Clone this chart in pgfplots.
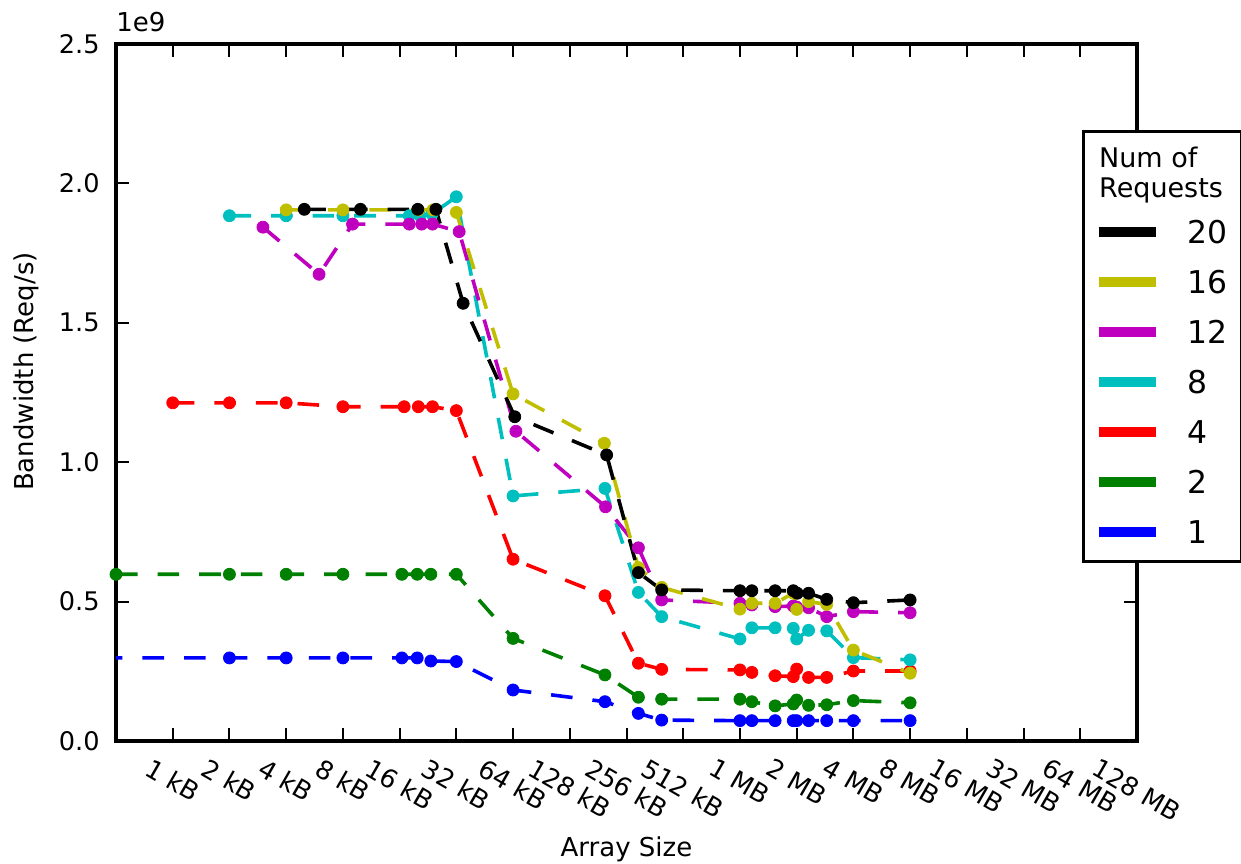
\documentclass[border=0pt]{standalone}
\usepackage{fontspec}
\setmainfont{DejaVu Sans}
\usepackage{graphicx}
\usepackage{pgfplots}
\pgfplotsset{compat=1.18}
\definecolor{mplb}{rgb}{0,0,1}
\definecolor{mplg}{rgb}{0,0.5,0}
\definecolor{mplr}{rgb}{1,0,0}
\definecolor{mplc}{rgb}{0,0.75,0.75}
\definecolor{mplm}{rgb}{0.75,0,0.75}
\definecolor{mply}{rgb}{0.75,0.75,0}
\newcommand{\rl}[1]{\rotatebox{-30}{#1}}
\pgfplotsset{
  ser/.style={color=#1, line width=1.8pt, dash pattern=on 10.8pt off 10pt,
    mark=*, mark size=3pt, mark options={solid, fill=#1, line width=0.4pt}},
}
\begin{document}
\begin{tikzpicture}
\begin{axis}[
  name=ax, at={(0,0)}, anchor=south west,
  scale only axis, width=510.5pt, height=348.5pt,
  xmin=9, xmax=27, ymin=0, ymax=2.5,
  xtick={10,...,27},
  xticklabels={\rl{1 kB},\rl{2 kB},\rl{4 kB},\rl{8 kB},\rl{16 kB},\rl{32 kB},\rl{64 kB},\rl{128 kB},\rl{256 kB},\rl{512 kB},\rl{1 MB},\rl{2 MB},\rl{4 MB},\rl{8 MB},\rl{16 MB},\rl{32 MB},\rl{64 MB},\rl{128 MB}},
  ytick={0,0.5,1,1.5,2,2.5},
  yticklabels={0.0,0.5,1.0,1.5,2.0,2.5},
  ticklabel style={font=\fontsize{12.8}{15}\selectfont},
  xticklabel style={anchor=north, inner sep=0pt, yshift=-8pt},
  yticklabel style={anchor=east, inner sep=0pt, xshift=-8pt},
  tick align=inside,
  major tick length=6.5pt,
  tick style={line width=1pt, black},
  axis line style={line width=1.6pt},
  xlabel={Array Size},
  ylabel={Bandwidth (Req/s)},
  label style={font=\fontsize{13}{15}\selectfont},
  xlabel style={at={(axis description cs:0.5,-0.155)}, anchor=center},
  ylabel style={at={(axis description cs:-0.0881,0.53)}, anchor=center},
  legend style={at={(0.9458,0.8766)}, anchor=north west, draw=black, line width=1.5pt,
    fill=white, inner xsep=5.2pt, inner ysep=5.5pt, row sep={25pt,between origins},
    column sep=11.3pt, cells={anchor=base west, inner sep=0pt},
    font=\fontsize{15.7}{18}\selectfont},
  legend image code/.code={\draw[line width=5pt, solid] (0pt,5.8pt) -- (28.5pt,5.8pt);},
]
% 1 request
\addplot[ser=mplb, forget plot] coordinates {
(8,0.298) (11,0.298) (12,0.298) (13,0.298) (14.04,0.298) (14.31,0.298) (14.55,0.287) (15.0,0.285)
(16.0,0.183) (17.62,0.141) (18.21,0.099) (18.62,0.075) (20.0,0.073) (20.21,0.073) (20.62,0.073)
(20.94,0.073) (21.0,0.073) (21.21,0.073) (21.53,0.073) (22.0,0.073) (23.0,0.073)};
% 2 requests
\addplot[ser=mplg, forget plot] coordinates {
(9,0.598) (11,0.598) (12,0.598) (13,0.598) (14.04,0.598) (14.31,0.598) (14.55,0.598) (15.0,0.598)
(16.0,0.368) (17.62,0.237) (18.21,0.157) (18.62,0.150) (20.0,0.150) (20.21,0.141) (20.62,0.126)
(20.94,0.133) (21.0,0.147) (21.21,0.128) (21.53,0.130) (22.0,0.145) (23.0,0.137)};
% 4 requests
\addplot[ser=mplr, forget plot] coordinates {
(10,1.213) (11,1.213) (12,1.213) (13,1.199) (14.08,1.199) (14.33,1.199) (14.58,1.199) (15.0,1.185)
(16.0,0.652) (17.62,0.521) (18.21,0.279) (18.62,0.257) (20.0,0.255) (20.21,0.246) (20.62,0.234)
(20.94,0.231) (21.0,0.258) (21.21,0.228) (21.53,0.228) (22.0,0.251) (23.0,0.251)};
% 8 requests
\addplot[ser=mplc, forget plot] coordinates {
(11,1.884) (12,1.884) (13,1.884) (14.17,1.884) (14.36,1.884) (14.57,1.89) (15.0,1.952)
(16.0,0.879) (17.62,0.906) (18.21,0.533) (18.62,0.446) (20.0,0.366) (20.21,0.406) (20.62,0.406)
(20.94,0.404) (21.0,0.366) (21.21,0.397) (21.53,0.395) (22.0,0.299) (23.0,0.291)};
% 12 requests
\addplot[ser=mplm, forget plot] coordinates {
(11.59,1.843) (12.58,1.674) (13.17,1.854) (14.17,1.854) (14.39,1.854) (14.58,1.854) (15.05,1.827)
(16.05,1.111) (17.63,0.840) (18.21,0.693) (18.62,0.506) (20.0,0.494) (20.21,0.488) (20.62,0.482)
(20.94,0.484) (21.0,0.480) (21.21,0.478) (21.53,0.446) (22.0,0.464) (23.0,0.460)};
% 16 requests
\addplot[ser=mply, forget plot] coordinates {
(12,1.905) (13,1.905) (14.33,1.905) (14.59,1.905) (15.0,1.896)
(16.0,1.245) (17.61,1.068) (18.21,0.622) (18.62,0.551) (20.0,0.473) (20.21,0.494) (20.62,0.494)
(20.94,0.530) (21.0,0.472) (21.21,0.500) (21.53,0.490) (22.0,0.326) (23.0,0.243)};
% 20 requests
\addplot[ser=black, forget plot] coordinates {
(12.32,1.907) (13.31,1.907) (14.32,1.907) (14.64,1.907) (15.12,1.570)
(16.03,1.163) (17.65,1.026) (18.21,0.604) (18.62,0.542) (20.0,0.539) (20.21,0.539) (20.62,0.539)
(20.94,0.539) (21.01,0.530) (21.21,0.530) (21.53,0.508) (22.0,0.496) (23.0,0.506)};
\addlegendimage{empty legend}
\addlegendentry{\fontsize{13.5}{15}\selectfont\hspace*{-44pt}\raisebox{-2pt}{\begin{tabular}[b]{@{}l@{}}Num of\\Requests\end{tabular}}}
\addlegendimage{black}\addlegendentry{20}
\addlegendimage{mply}\addlegendentry{16}
\addlegendimage{mplm}\addlegendentry{12}
\addlegendimage{mplc}\addlegendentry{8}
\addlegendimage{mplr}\addlegendentry{4}
\addlegendimage{mplg}\addlegendentry{2}
\addlegendimage{mplb}\addlegendentry{1\rule[-8pt]{0pt}{1pt}}
\end{axis}
\node[anchor=base west, inner sep=0pt, font=\fontsize{13}{15}\selectfont] at ([yshift=6pt]ax.north west) {1e9};
\pgfresetboundingbox
\path[use as bounding box] ([xshift=-58pt,yshift=-61pt]ax.south west) rectangle ([xshift=52pt,yshift=22pt]ax.north east);
\end{tikzpicture}
\end{document}
